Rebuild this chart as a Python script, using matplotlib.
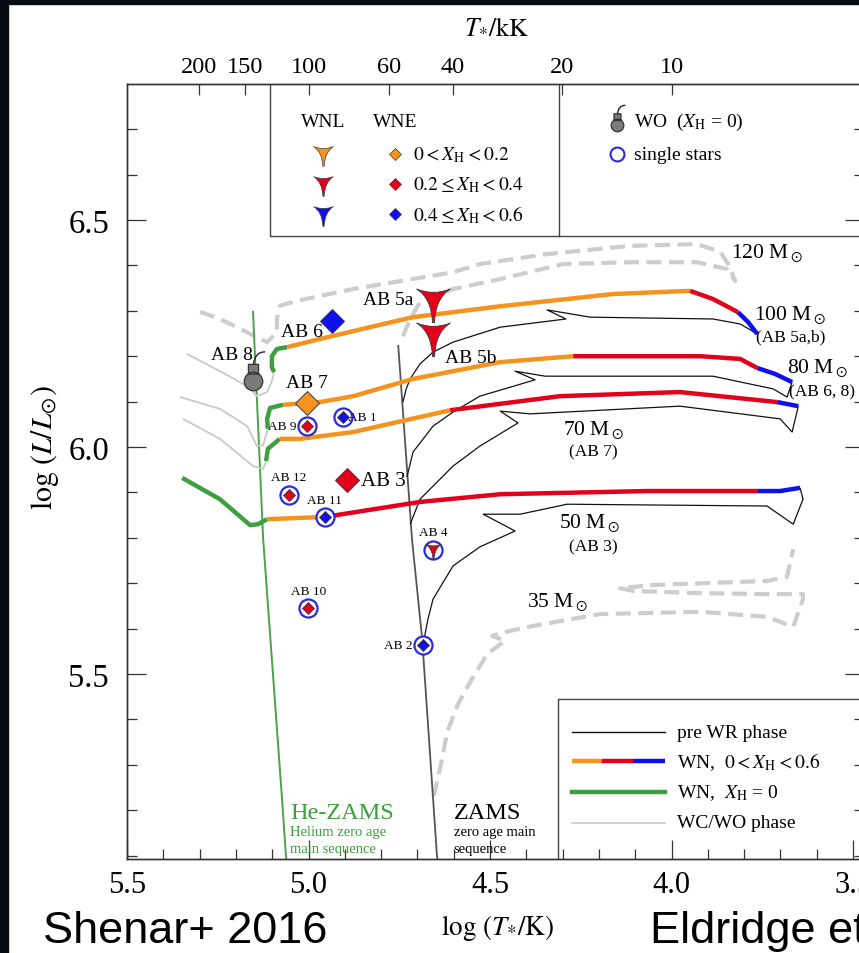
"""HRD of WR stars (Shenar+ 2016) with evolutionary tracks, slide-style crop."""

import matplotlib
matplotlib.use("Agg")
import matplotlib.pyplot as plt
import numpy as np
from matplotlib.path import Path
from matplotlib.patches import Rectangle
from matplotlib.ticker import MultipleLocator, NullLocator

plt.rcParams["font.family"] = ["Liberation Serif", "DejaVu Serif"]
plt.rcParams["mathtext.fontset"] = "stix"

# ---------------- data: (log T*/K, log L/Lsun) ----------------
ZAMS = [(4.753, 6.225), (4.715, 5.797), (4.687, 5.577), (4.646, 5.097), (4.643, 5.09)]
HE_ZAMS = [(5.153, 6.300), (5.125, 5.797), (5.073, 5.225), (5.062, 5.097), (5.060, 5.09)]

# 120 Msun (dashed grey)
M120 = [(4.740, 6.244), (4.720, 6.282), (4.693, 6.319), (4.602, 6.348), (4.472, 6.370),
        (4.299, 6.403), (4.114, 6.407), (3.930, 6.407), (3.847, 6.392), (3.825, 6.366),
        (3.844, 6.403), (3.866, 6.430), (3.930, 6.447), (4.114, 6.443), (4.343, 6.425),
        (4.528, 6.403), (4.602, 6.385), (4.877, 6.348), (5.032, 6.322), (5.079, 6.311),
        (5.087, 6.282), (5.087, 6.253), (5.114, 6.231), (5.244, 6.282), (5.307, 6.300)]

# 100 Msun (AB 5a,b)
M100_PRE = [(4.740, 6.099), (4.731, 6.128), (4.720, 6.150), (4.693, 6.183), (4.657, 6.209),
            (4.602, 6.231), (4.472, 6.264), (4.291, 6.282), (4.343, 6.302), (4.224, 6.286),
            (3.886, 6.282), (3.811, 6.271), (3.764, 6.249)]
M100_BLUE = [(3.764, 6.249), (3.789, 6.275), (3.817, 6.297)]
M100_RED = [(3.817, 6.297), (3.886, 6.326), (3.949, 6.344)]
M100_ORANGE = [(3.949, 6.344), (4.161, 6.337), (4.472, 6.310), (4.712, 6.286),
               (4.831, 6.264), (4.968, 6.238), (5.059, 6.220)]
M100_GREEN = [(5.059, 6.220), (5.087, 6.216), (5.101, 6.200), (5.101, 6.176), (5.095, 6.165)]
M100_WC = [(5.095, 6.165), (5.101, 6.145), (5.114, 6.121), (5.142, 6.112), (5.169, 6.134),
           (5.244, 6.167), (5.335, 6.205)]

# 80 Msun (AB 6, 8)
M80_PRE = [(4.729, 5.934), (4.712, 5.989), (4.657, 6.046), (4.602, 6.077), (4.528, 6.112),
           (4.376, 6.148), (4.431, 6.167), (4.348, 6.156), (3.886, 6.156), (3.720, 6.128),
           (3.682, 6.110), (3.668, 6.143)]
M80_BLUE = [(3.668, 6.143), (3.715, 6.161), (3.764, 6.174)]
M80_RED = [(3.764, 6.174), (3.811, 6.194), (3.921, 6.200), (4.271, 6.200)]
M80_ORANGE = [(4.271, 6.200), (4.472, 6.187), (4.712, 6.150), (4.877, 6.112),
              (4.968, 6.099), (5.070, 6.093)]
M80_GREEN = [(5.070, 6.093), (5.106, 6.086), (5.114, 6.062), (5.112, 6.040)]
M80_WC = [(5.112, 6.040), (5.125, 6.004), (5.142, 6.002), (5.169, 6.046), (5.244, 6.084),
          (5.354, 6.110)]

# 70 Msun (AB 7)
M70_PRE = [(4.720, 5.830), (4.693, 5.885), (4.602, 5.958), (4.528, 6.002), (4.423, 6.053),
           (4.472, 6.079), (4.390, 6.073), (3.977, 6.090), (3.701, 6.062), (3.668, 6.033),
           (3.651, 6.090)]
M70_BLUE = [(3.651, 6.090), (3.709, 6.099)]
M70_RED = [(3.709, 6.099), (3.977, 6.121), (4.307, 6.112), (4.610, 6.081)]
M70_ORANGE = [(4.610, 6.081), (4.877, 6.033), (5.023, 6.018), (5.079, 6.018)]
M70_GREEN = [(5.079, 6.018), (5.112, 5.996), (5.117, 5.969)]
M70_WC = [(5.117, 5.969), (5.125, 5.952), (5.153, 5.958), (5.244, 6.018), (5.346, 6.062)]

# 50 Msun (AB 3)
M50_PRE = [(4.685, 5.564), (4.671, 5.621), (4.657, 5.665), (4.602, 5.738), (4.528, 5.780),
           (4.431, 5.815), (4.519, 5.852), (4.417, 5.852), (4.288, 5.874), (3.737, 5.870),
           (3.665, 5.830), (3.638, 5.885), (3.646, 5.910)]
M50_BLUE = [(3.646, 5.910), (3.701, 5.903), (3.762, 5.903)]
M50_RED = [(3.762, 5.903), (4.067, 5.903), (4.472, 5.896), (4.693, 5.879), (4.955, 5.846)]
M50_ORANGE = [(4.955, 5.846), (5.114, 5.841)]
M50_GREEN = [(5.114, 5.841), (5.139, 5.830), (5.161, 5.828), (5.244, 5.885), (5.348, 5.932)]

# 35 Msun (dashed grey)
M35 = [(4.655, 5.231), (4.635, 5.302), (4.618, 5.372), (4.588, 5.434), (4.555, 5.482),
       (4.508, 5.544), (4.459, 5.573), (4.494, 5.584), (4.445, 5.595), (4.381, 5.606),
       (4.197, 5.632), (3.921, 5.637), (3.737, 5.626), (3.665, 5.604), (3.638, 5.665),
       (3.638, 5.676), (3.737, 5.676), (3.921, 5.678), (4.106, 5.683), (4.142, 5.689),
       (4.051, 5.696), (3.737, 5.705), (3.682, 5.714), (3.665, 5.775)]

# WR stars
STAR_NAMES = ["AB 1", "AB 2", "AB 3", "AB 4", "AB 5a", "AB 5b", "AB 6", "AB 7",
              "AB 8", "AB 9", "AB 10", "AB 11", "AB 12"]
STAR_LOGT = [4.905, 4.685, 4.894, 4.657, 4.657, 4.657, 4.935, 5.004,
             5.153, 5.004, 5.001, 4.955, 5.054]
STAR_LOGL = [6.066, 5.564, 5.927, 5.773, 6.319, 6.244, 6.278, 6.097,
             6.145, 6.046, 5.645, 5.846, 5.894]
STAR_TYPE = ["WNE", "WNE", "WNE", "WNL", "WNL", "WNL", "WNE", "WNE",
             "WO", "WNE", "WNE", "WNE", "WNE"]
STAR_XH_BIN = [2, 2, 1, 1, 1, 1, 2, 0, -1, 1, 1, 2, 1]   # 0: <0.2, 1: <0.4, 2: <0.6
STAR_SINGLE = [True, True, False, True, False, False, False, False,
               False, True, True, True, True]

TOP_T_KK = [200, 150, 100, 60, 40, 20, 10]

MASS_LABELS = [r"120 M$_\odot$", r"100 M$_\odot$", r"80 M$_\odot$", r"70 M$_\odot$",
               r"50 M$_\odot$", r"35 M$_\odot$"]
MASS_LABEL_POS = [(3.737, 6.430), (3.673, 6.293), (3.599, 6.176), (4.216, 6.040),
                  (4.225, 5.835), (4.315, 5.661)]
MASS_SUBLABELS = ["(AB 5a,b)", "(AB 6, 8)", "(AB 7)", "(AB 3)"]
MASS_SUBLABEL_POS = [(3.673, 6.244), (3.585, 6.123), (4.216, 5.991), (4.216, 5.780)]

# ---------------- styles ----------------
ORANGE = "#f5931e"
RED = "#e2001a"
BLUE = "#1010ee"
GREEN = "#3f9e3f"
WC_GREY = "#c9c9c9"
DASH_GREY = "#cdcdcd"
XH_COLORS = [ORANGE, RED, BLUE]
EDGE = "#3a3a3a"

# WNL marker: three-pointed, concave, pointing down
WNL_PATH = Path(
    [(-1.0, 0.8), (0.0, 0.4), (1.0, 0.8), (0.12, 0.25), (0.06, -1.2),
     (-0.06, -1.2), (-0.12, 0.25), (-1.0, 0.8), (-1.0, 0.8)],
    [Path.MOVETO, Path.CURVE3, Path.CURVE3, Path.CURVE3, Path.CURVE3,
     Path.LINETO, Path.CURVE3, Path.CURVE3, Path.CLOSEPOLY])

# WO "bomb" marker: body + fuse, sharing the same normalisation anchor
_anchor = Path([(0.0, 3.3)], [Path.MOVETO])
BOMB_BODY = Path.make_compound_path(
    _anchor,
    Path.circle((0.0, 0.0), 1.0),
    Path([(-0.55, 0.8), (0.55, 0.8), (0.55, 1.85), (-0.55, 1.85), (-0.55, 0.8)],
         [Path.MOVETO, Path.LINETO, Path.LINETO, Path.LINETO, Path.CLOSEPOLY]))
BOMB_FUSE = Path.make_compound_path(
    _anchor,
    Path([(0.0, 1.85), (0.1, 2.7), (0.5, 3.2), (1.25, 3.2)],
         [Path.MOVETO, Path.CURVE4, Path.CURVE4, Path.CURVE4]))


def xy(points):
    arr = np.asarray(points, dtype=float)
    return arr[:, 0], arr[:, 1]


def track(ax, points, **kw):
    x, y = xy(points)
    ax.plot(x, y, solid_joinstyle="round", solid_capstyle="butt", **kw)


def bomb(ax, x, y, ms):
    ax.plot([x], [y], marker=BOMB_BODY, ms=ms, mfc="#7a7a7a", mec="#333333",
            mew=0.9, ls="none", zorder=8)
    ax.plot([x], [y], marker=BOMB_FUSE, ms=ms, mfc="none", mec="#222222",
            mew=1.0, ls="none", zorder=8)


fig = plt.figure(figsize=(8.59, 9.54), dpi=100)
fig.patch.set_facecolor("white")
fig.add_artist(Rectangle((0, 0), 8 / 859, 1, transform=fig.transFigure,
                         color="#070a10", zorder=0))
fig.add_artist(Rectangle((0, 1 - 5 / 954), 1, 5 / 954, transform=fig.transFigure,
                         color="#070a10", zorder=0))

ax = fig.add_axes([127 / 859, 1 - 860 / 954, 737 / 859, 775 / 954])
ax.set_xlim(5.5, 3.47)
ax.set_ylim(5.0925, 6.7996)

# reference sequences
track(ax, ZAMS, color="#555555", lw=1.3, zorder=3)
track(ax, HE_ZAMS, color="#4aa24a", lw=1.4, zorder=3)

# dashed tracks
for pts in (M120, M35):
    x, y = xy(pts)
    ax.plot(x, y, color=DASH_GREY, lw=3.0, ls=(0, (3.6, 1.8)), zorder=2)

tracks = [
    (M100_PRE, M100_BLUE, M100_RED, M100_ORANGE, M100_GREEN, M100_WC),
    (M80_PRE, M80_BLUE, M80_RED, M80_ORANGE, M80_GREEN, M80_WC),
    (M70_PRE, M70_BLUE, M70_RED, M70_ORANGE, M70_GREEN, M70_WC),
    (M50_PRE, M50_BLUE, M50_RED, M50_ORANGE, M50_GREEN, None),
]
for pre, blue, red, orange, green, wc in tracks:
    track(ax, pre, color="#111111", lw=0.9, zorder=4)
    if wc is not None:
        track(ax, wc, color=WC_GREY, lw=1.3, zorder=4)
    track(ax, green, color=GREEN, lw=3.2, zorder=5)
    track(ax, orange, color=ORANGE, lw=3.2, zorder=5)
    track(ax, red, color=RED, lw=3.2, zorder=5)
    track(ax, blue, color=BLUE, lw=3.2, zorder=5)

# stars
for name, lt, ll, kind, xb, single in zip(STAR_NAMES, STAR_LOGT, STAR_LOGL,
                                          STAR_TYPE, STAR_XH_BIN, STAR_SINGLE):
    if kind == "WO":
        bomb(ax, lt, ll, 44)
        continue
    col = XH_COLORS[xb]
    if single:
        ax.plot([lt], [ll], marker="o", ms=13, mfc="white", mec="#2a2ae0",
                mew=1.6, ls="none", zorder=7)
        if kind == "WNL":
            ax.plot([lt], [ll], marker=WNL_PATH, ms=13, mfc=col, mec=EDGE,
                    mew=0.6, ls="none", zorder=8)
        else:
            ax.plot([lt], [ll], marker="D", ms=6.6, mfc=col, mec=EDGE,
                    mew=0.6, ls="none", zorder=8)
    else:
        if kind == "WNL":
            ax.plot([lt], [ll], marker=WNL_PATH, ms=29, mfc=col, mec=EDGE,
                    mew=0.6, ls="none", zorder=8)
        else:
            ax.plot([lt], [ll], marker="D", ms=12.7, mfc=col, mec=EDGE,
                    mew=0.7, ls="none", zorder=8)

label_style = {
    "AB 1": ((14, 0), "center", 9.5), "AB 2": ((-18, 0), "center", 9.5),
    "AB 3": ((10, 0), "left", 15), "AB 4": ((0, 13), "center", 9.5),
    "AB 5a": ((-14, 2), "right", 14), "AB 5b": ((27, -15), "center", 14),
    "AB 6": ((-22, -8), "center", 14), "AB 7": ((0, 15), "center", 14),
    "AB 8": ((-15, 19), "center", 14), "AB 9": ((-18, 0), "center", 9.5),
    "AB 10": ((0, 12.5), "center", 9.5), "AB 11": ((0, 12.5), "center", 9.5),
    "AB 12": ((0, 13), "center", 9.5),
}
for name, lt, ll in zip(STAR_NAMES, STAR_LOGT, STAR_LOGL):
    off, ha, size = label_style[name]
    ax.annotate(name, (lt, ll), xytext=off, textcoords="offset points",
                ha=ha, va="center", fontsize=size, zorder=9)

for text, (lt, ll) in zip(MASS_LABELS, MASS_LABEL_POS):
    ax.text(lt, ll, text, ha="center", va="center", fontsize=15.5, zorder=9)
for text, (lt, ll) in zip(MASS_SUBLABELS, MASS_SUBLABEL_POS):
    ax.text(lt, ll, text, ha="center", va="center", fontsize=12.5, zorder=9)

# ZAMS annotations
ax.text(5.051, 5.196, "He-ZAMS", color="#3f9e3f", fontsize=17.5, va="center")
ax.text(5.051, 5.152, "Helium zero age", color="#3f9e3f", fontsize=10.5, va="center")
ax.text(5.051, 5.116, "main sequence", color="#3f9e3f", fontsize=10.5, va="center")
ax.text(4.600, 5.196, "ZAMS", color="black", fontsize=17.5, va="center")
ax.text(4.600, 5.152, "zero age main", color="black", fontsize=10.5, va="center")
ax.text(4.600, 5.116, "sequence", color="black", fontsize=10.5, va="center")

# ---------------- top legend box ----------------
box_kw = dict(color="#444444", lw=1.0, zorder=6)
ax.plot([5.106, 5.106, 3.0], [6.81, 6.465, 6.465], **box_kw)
ax.plot([4.31, 4.31], [6.81, 6.465], **box_kw)
ax.text(4.960, 6.718, "WNL", ha="center", va="center", fontsize=14)
ax.text(4.762, 6.718, "WNE", ha="center", va="center", fontsize=14)
legend_rows = [6.645, 6.579, 6.513]
legend_text = [r"$0 < X_\mathrm{H} < 0.2$", r"$0.2 \leq X_\mathrm{H} < 0.4$",
               r"$0.4 \leq X_\mathrm{H} < 0.6$"]
for row, col, txt in zip(legend_rows, XH_COLORS, legend_text):
    ax.plot([4.960], [row], marker=WNL_PATH, ms=17, mfc=col, mec=EDGE, mew=0.5,
            ls="none", zorder=8)
    ax.plot([4.762], [row], marker="D", ms=6.3, mfc=col, mec=EDGE, mew=0.5,
            ls="none", zorder=8)
    ax.text(4.712, row, txt, ha="left", va="center", fontsize=14)
bomb(ax, 4.150, 6.710, 30)
ax.text(4.103, 6.718, r"WO  ($X_\mathrm{H}$ = 0)", ha="left", va="center", fontsize=14)
ax.plot([4.150], [6.645], marker="o", ms=10, mfc="none", mec="#2a2ae0", mew=1.5,
        ls="none")
ax.text(4.103, 6.645, "single stars", ha="left", va="center", fontsize=14)

# ---------------- bottom legend box ----------------
ax.plot([3.0, 4.313, 4.313], [5.445, 5.445, 5.0], **box_kw)
ax.plot([4.274, 4.018], [5.372, 5.372], color="#111111", lw=1.0)
ax.plot([4.274, 4.191], [5.308, 5.308], color=ORANGE, lw=3.2, solid_capstyle="butt")
ax.plot([4.191, 4.106], [5.308, 5.308], color=RED, lw=3.2, solid_capstyle="butt")
ax.plot([4.106, 4.018], [5.308, 5.308], color=BLUE, lw=3.2, solid_capstyle="butt")
ax.plot([4.274, 4.018], [5.240, 5.240], color=GREEN, lw=3.2)
ax.plot([4.274, 4.018], [5.172, 5.172], color=WC_GREY, lw=1.2)
bottom_texts = ["pre WR phase", r"WN,  $0 < X_\mathrm{H} < 0.6$",
                r"WN,  $X_\mathrm{H}$ = 0", "WC/WO phase"]
for row, txt in zip([5.372, 5.308, 5.240, 5.172], bottom_texts):
    ax.text(3.985, row, txt, ha="left", va="center", fontsize=14)

# ---------------- axes & ticks ----------------
ax.set_xticks([5.5, 5.0, 4.5, 4.0, 3.5])
ax.set_xticklabels(["5.5", "5.0", "4.5", "4.0", "3.5"])
ax.set_yticks([5.5, 6.0, 6.5])
ax.set_yticklabels(["5.5", "6.0", "6.5"])
ax.xaxis.set_minor_locator(MultipleLocator(0.1))
ax.yaxis.set_minor_locator(MultipleLocator(0.1))
ax.tick_params(which="both", direction="in", top=False, right=True,
               color="#333333", width=0.9)
ax.tick_params(which="major", length=14)
ax.tick_params(which="minor", length=7)
ax.tick_params(axis="y", pad=13, labelsize=23.5)
ax.tick_params(axis="x", pad=8, labelsize=22)
for sp in ax.spines.values():
    sp.set_color("#333333")
    sp.set_linewidth(1.0)

axt = ax.twiny()
axt.set_xlim(ax.get_xlim())
axt.set_xticks(np.log10(np.array(TOP_T_KK, dtype=float) * 1000.0))
axt.set_xticklabels([str(t) for t in TOP_T_KK])
axt.xaxis.set_minor_locator(NullLocator())
axt.tick_params(direction="in", length=8, width=0.9, color="#333333",
                labelsize=17.5, pad=5)
for sp in axt.spines.values():
    sp.set_color("#333333")
    sp.set_linewidth(1.0)

fig.text(497 / 859, 1 - 27 / 954, r"$T_{*}/\mathrm{kK}$", ha="center",
         va="center", fontsize=18.5)
fig.text(497 / 859, 1 - 928 / 954, r"$\log\,(T_{*}/\mathrm{K})$", ha="center",
         va="center", fontsize=19.5)
fig.text(45 / 859, 1 - 448 / 954, r"$\log\,(L/L_{\odot})$", ha="center",
         va="center", rotation=90, fontsize=21.5)

fig.text(43 / 859, 1 - 943 / 954, "Shenar+ 2016", family="Liberation Sans",
         fontsize=32.5, ha="left", va="baseline")
fig.text(650 / 859, 1 - 943 / 954, "Eldridge et al.", family="Liberation Sans",
         fontsize=32.5, ha="left", va="baseline")

fig.savefig("out.png", dpi=100)
